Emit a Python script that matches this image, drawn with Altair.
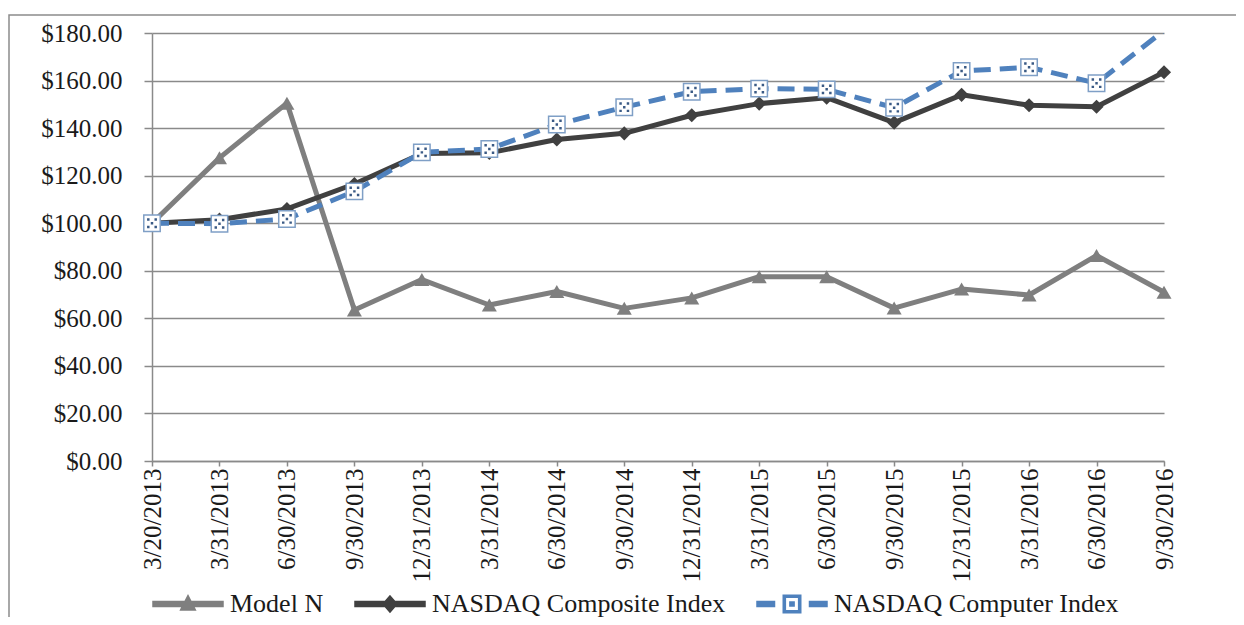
import altair as alt
import pandas as pd

# ---------------- data ----------------
dates = ["3/20/2013", "3/31/2013", "6/30/2013", "9/30/2013", "12/31/2013",
         "3/31/2014", "6/30/2014", "9/30/2014", "12/31/2014", "3/31/2015",
         "6/30/2015", "9/30/2015", "12/31/2015", "3/31/2016", "6/30/2016",
         "9/30/2016"]

series_names = ["Model N", "NASDAQ Composite Index", "NASDAQ Computer Index"]

model_n = [100.0, 127.5, 150.5, 63.5, 76.3, 65.6, 71.3, 64.2, 68.6, 77.5,
           77.5, 64.3, 72.3, 69.8, 86.4, 71.0]
composite = [100.0, 101.5, 106.0, 116.5, 129.3, 129.6, 135.2, 137.8, 145.4,
             150.3, 152.8, 142.3, 154.0, 149.6, 149.0, 163.5]
computer = [100.0, 99.8, 101.8, 113.4, 129.8, 131.2, 141.5, 148.8, 155.3,
            156.6, 156.3, 148.6, 164.0, 165.6, 158.9, 181.0]

y_ticks = [0, 20, 40, 60, 80, 100, 120, 140, 160, 180]

colors = ["#7f7f7f", "#404040", "#4f81bd"]

rows = []
for name, vals in zip(series_names, [model_n, composite, computer]):
    for d, v in zip(dates, vals):
        rows.append({"date": d, "series": name, "value": v})
df = pd.DataFrame(rows)

FONT = "Liberation Serif"
TXT = "#1a1a1a"
GRID = "#8a8a8a"

x_enc = alt.X(
    "date:N",
    scale=alt.Scale(domain=dates, padding=0),
    axis=alt.Axis(title=None, labelAngle=270, labelFont=FONT, labelFontSize=25,
                  labelColor=TXT, tickSize=5, labelPadding=2, grid=False,
                  labelOverlap=False),
)
y_enc = alt.Y(
    "value:Q",
    scale=alt.Scale(domain=[0, 180], nice=False),
    axis=alt.Axis(title=None, values=y_ticks, format="$.2f", labelFont=FONT,
                  labelFontSize=25, labelColor=TXT, tickSize=8, labelPadding=22,
                  grid=True),
)

base = alt.Chart(df).encode(x=x_enc, y=y_enc)


def sel(name):
    return base.transform_filter(alt.datum.series == name)


mn_line = sel("Model N").mark_line(color=colors[0], strokeWidth=5, strokeJoin="round", clip=True)
mn_pts = sel("Model N").mark_point(shape="triangle-up", filled=True, size=225,
                                   color=colors[0], opacity=1)

co_line = sel("NASDAQ Composite Index").mark_line(color=colors[1], strokeWidth=5,
                                                  strokeJoin="round", clip=True)
co_pts = sel("NASDAQ Composite Index").mark_point(shape="diamond", filled=True, size=200,
                                                  color=colors[1], opacity=1)

cp_line = sel("NASDAQ Computer Index").mark_line(color=colors[2], strokeWidth=5,
                                                 strokeDash=[17, 9], clip=True)
cp_sel = sel("NASDAQ Computer Index").transform_filter(alt.datum.value <= 180)
cp_pts = cp_sel.mark_point(shape="square", filled=False, size=270, fill="white",
                           stroke="#7f9fc6", strokeWidth=1.5, opacity=1)
dots_path = ("M-0.6,-0.6H-0.3V-0.3H-0.6Z M0.3,-0.6H0.6V-0.3H0.3Z "
             "M-0.15,-0.15H0.15V0.15H-0.15Z M-0.6,0.3H-0.3V0.6H-0.6Z "
             "M0.3,0.3H0.6V0.6H0.3Z")
cp_dots = cp_sel.mark_point(shape=dots_path, filled=True, size=270,
                            color="#3a5a85", opacity=1)

# ---------------- legend (driven by series names) ----------------
leg_paths = [
    "M-1,-0.07H1V0.07H-1Z M-0.21,0.17L0,-0.24L0.21,0.17Z",
    "M-1,-0.07H1V0.07H-1Z M0,-0.23L0.2,0L0,0.23L-0.2,0Z",
    "M-1,-0.07H-0.5V0.07H-1Z M0.5,-0.07H1V0.07H0.5Z "
    "M-0.25,-0.25H0.25V0.25H-0.25Z M-0.19,-0.19V0.19H0.19V-0.19Z "
    "M-0.06,-0.06H0.06V0.06H-0.06Z",
]
leg = alt.Legend(title=None, orient="none", legendX=0, legendY=535,
                 direction="horizontal", symbolSize=4900, symbolStrokeWidth=1.5,
                 labelFont=FONT, labelFontSize=26, labelColor=TXT, labelOffset=6,
                 columnPadding=28, padding=0, labelLimit=0)
legend_layer = base.transform_filter("false").mark_point(opacity=1).encode(
    shape=alt.Shape("series:N", scale=alt.Scale(domain=series_names, range=leg_paths), legend=leg),
    fill=alt.Fill("series:N", scale=alt.Scale(domain=series_names, range=colors), legend=leg),
    stroke=alt.Stroke("series:N", scale=alt.Scale(domain=series_names, range=colors), legend=leg),
)

frame = alt.Chart(alt.Data(values=[{"a": 1}])).mark_rect(
    fillOpacity=0, stroke="#8c8c8c", strokeWidth=1.5
).encode(x=alt.value(-143), x2=alt.value(1250), y=alt.value(-18), y2=alt.value(700))

chart = alt.layer(
    mn_line, mn_pts, co_line, co_pts, cp_line, cp_pts, cp_dots, legend_layer, frame
).properties(
    width=1012, height=428,
    autosize=alt.AutoSizeParams(type="none"),
    padding={"left": 144, "top": 25, "right": 72, "bottom": 156},
    background="white",
).configure_view(stroke=None).configure_axis(
    domainColor=GRID, domainWidth=1.5, gridColor=GRID, gridWidth=1.5,
    tickColor=GRID, tickWidth=1.5,
)

chart.save("out.html", embed_options={"renderer": "svg", "actions": False})
